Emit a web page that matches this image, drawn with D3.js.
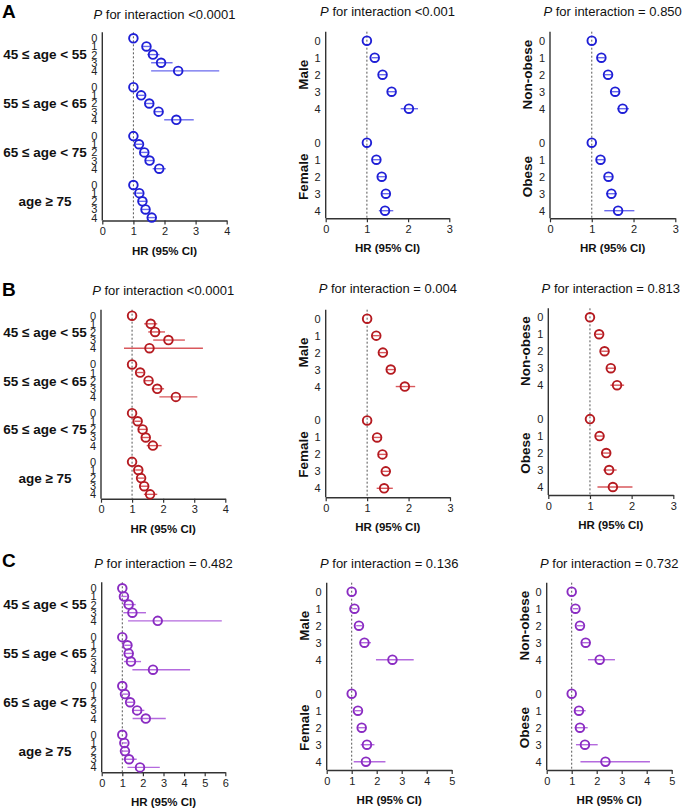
<!DOCTYPE html>
<html><head><meta charset="utf-8">
<script src="https://cdn.jsdelivr.net/npm/d3@7"></script>
<style>
html,body{margin:0;padding:0;background:#fff;}
svg{display:block;font-family:"Liberation Sans",Arial,sans-serif;}
</style></head>
<body><svg id="chart" width="685" height="809"></svg>
<script>
// ---------- data ----------
const rowLabels = ["0","1","2","3","4"];
const ageGroups = ["45 \u2264 age < 55","55 \u2264 age < 65","65 \u2264 age < 75","age \u2265 75"];
const sexGroups = ["Male","Female"];
const bmiGroups = ["Non-obese","Obese"];
const panelLetters = ["A","B","C"];
const pValuesA = ["<0.0001","<0.001","= 0.850"];
const pValuesB = ["<0.0001","= 0.004","= 0.813"];
const pValuesC = ["= 0.482","= 0.136","= 0.732"];
const xMaxA = [4,3,3];
const xMaxB = [4,3,3];
const xMaxC = [6,5,5];

// Panel A (blue)
const hrA_age = [[1,1.42,1.63,1.89,2.44],[1,1.25,1.51,1.81,2.38],[1,1.18,1.35,1.52,1.83],[1,1.19,1.29,1.39,1.59]];
const loA_age = [[1,1.31,1.45,1.57,1.57],[1,1.15,1.40,1.67,1.99],[1,1.08,1.24,1.40,1.62],[1,1.09,1.18,1.27,1.45]];
const hiA_age = [[1,1.53,1.84,2.26,3.76],[1,1.36,1.63,1.96,2.94],[1,1.28,1.46,1.65,2.04],[1,1.30,1.41,1.52,1.75]];
const hrA_sex = [[1,1.19,1.38,1.60,2.02],[1,1.23,1.36,1.46,1.44]];
const loA_sex = [[1,1.12,1.30,1.51,1.82],[1,1.14,1.27,1.36,1.29]];
const hiA_sex = [[1,1.27,1.47,1.70,2.24],[1,1.32,1.46,1.57,1.64]];
const hrA_bmi = [[1,1.23,1.39,1.56,1.74],[1,1.21,1.40,1.47,1.63]];
const loA_bmi = [[1,1.15,1.31,1.47,1.61],[1,1.12,1.30,1.34,1.30]];
const hiA_bmi = [[1,1.31,1.48,1.66,1.89],[1,1.30,1.50,1.60,2.02]];

// Panel B (red)
const hrB_age = [[1,1.60,1.74,2.17,1.56],[1,1.26,1.53,1.81,2.41],[1,1.18,1.34,1.44,1.67],[1,1.20,1.29,1.39,1.58]];
const loB_age = [[1,1.39,1.52,1.68,0.74],[1,1.15,1.40,1.63,1.88],[1,1.08,1.22,1.32,1.47],[1,1.10,1.18,1.27,1.38]];
const hiB_age = [[1,1.81,2.06,2.70,3.28],[1,1.37,1.66,2.03,3.10],[1,1.28,1.46,1.57,1.95],[1,1.31,1.40,1.52,1.81]];
const hrB_sex = [[1,1.22,1.38,1.57,1.91],[1,1.24,1.37,1.45,1.41]];
const loB_sex = [[1,1.14,1.29,1.47,1.69],[1,1.15,1.28,1.35,1.23]];
const hiB_sex = [[1,1.30,1.47,1.67,2.16],[1,1.33,1.47,1.56,1.62]];
const hrB_bmi = [[1,1.22,1.35,1.50,1.65],[1,1.23,1.39,1.46,1.55]];
const loB_bmi = [[1,1.14,1.27,1.41,1.49],[1,1.14,1.29,1.32,1.18]];
const hiB_bmi = [[1,1.30,1.44,1.60,1.82],[1,1.32,1.49,1.64,2.02]];

// Panel C (purple)
const hrC_age = [[1,1.08,1.31,1.49,2.72],[1,1.25,1.31,1.42,2.49],[1,1.13,1.38,1.72,2.14],[1,1.10,1.13,1.33,1.86]];
const loC_age = [[1,0.95,1.05,1.05,1.28],[1,1.10,1.10,1.08,1.49],[1,1.00,1.22,1.47,1.50],[1,1.00,0.98,1.05,1.25]];
const hiC_age = [[1,1.22,1.65,2.15,5.83],[1,1.42,1.55,1.91,4.29],[1,1.28,1.56,2.07,3.11],[1,1.22,1.30,1.70,2.82]];
const hrC_sex = [[1,1.11,1.29,1.51,2.63],[1,1.25,1.40,1.61,1.57]];
const loC_sex = [[1,1.02,1.18,1.33,1.97],[1,1.13,1.26,1.36,1.08]];
const hiC_sex = [[1,1.21,1.41,1.77,3.48],[1,1.38,1.55,1.91,2.35]];
const hrC_bmi = [[1,1.15,1.33,1.56,2.12],[1,1.29,1.33,1.53,2.35]];
const loC_bmi = [[1,1.05,1.21,1.40,1.65],[1,1.13,1.12,1.17,1.35]];
const hiC_bmi = [[1,1.26,1.46,1.76,2.73],[1,1.56,1.64,2.04,4.13]];

// ---------- layout ----------
const svg = d3.select("#chart");
const colors = {
  A:{dot:"#1f1fd6", line:"#6a6aee"},
  B:{dot:"#b51a20", line:"#d9585d"},
  C:{dot:"#8a2cc2", line:"#b46ade"}
};
const rows = [
  {letter:"A", letterY:17.5, pv:pValuesA, xm:xMaxA, col:colors.A,
   sets:[[hrA_age,loA_age,hiA_age],[hrA_sex,loA_sex,hiA_sex],[hrA_bmi,loA_bmi,hiA_bmi]],
   geo:[{x0:102.3,x1:226.7,row0:38.3,slot:8.15,axisY:220.5,titleY:14},
        {x0:325.7,x1:449.3,row0:40.7,slot:17,axisY:218.3,titleY:11.7},
        {x0:550,x1:675.3,row0:40.7,slot:17,axisY:218.3,titleY:11.7}]},
  {letter:"B", letterY:295.7, pv:pValuesB, xm:xMaxB, col:colors.B,
   sets:[[hrB_age,loB_age,hiB_age],[hrB_sex,loB_sex,hiB_sex],[hrB_bmi,loB_bmi,hiB_bmi]],
   geo:[{x0:101,x1:225.3,row0:315.7,slot:8.12,axisY:498.7,titleY:290},
        {x0:325.7,x1:450,row0:318.7,slot:16.96,axisY:497.3,titleY:288.3},
        {x0:548.3,x1:673.3,row0:317.3,slot:16.97,axisY:495,titleY:288.3}]},
  {letter:"C", letterY:566.7, pv:pValuesC, xm:xMaxC, col:colors.C,
   sets:[[hrC_age,loC_age,hiC_age],[hrC_sex,loC_sex,hiC_sex],[hrC_bmi,loC_bmi,hiC_bmi]],
   geo:[{x0:101.7,x1:225.3,row0:588.3,slot:8.14,axisY:772.3,titleY:563.3},
        {x0:326.7,x1:451.7,row0:591.7,slot:17,axisY:770,titleY:563.3},
        {x0:546.7,x1:671.7,row0:591.7,slot:17,axisY:770,titleY:563.3}]}
];
const groupNames = [ageGroups, sexGroups, bmiGroups];

rows.forEach(R => {
  svg.append("text").attr("x",2).attr("y",R.letterY)
    .attr("font-size",19).attr("font-weight","bold").attr("fill","#000").text(R.letter);

  R.geo.forEach((g, pi) => {
    const [hr, lo, hi] = R.sets[pi];
    const groups = groupNames[pi];
    const isAge = pi === 0;
    const xmax = R.xm[pi];
    const x = d3.scaleLinear().domain([0, xmax]).range([g.x0, g.x1]);
    const nSlots = (groups.length - 1) * 6 + 4;
    const y = d3.scaleLinear().domain([0, nSlots]).range([g.row0, g.row0 + nSlots * g.slot]);
    const yTop = g.row0 - (isAge ? 6 : 9);
    const panel = svg.append("g");

    // title
    const t = panel.append("text").attr("x",(g.x0+g.x1)/2).attr("y",g.titleY+4.6)
      .attr("text-anchor","middle").attr("font-size",13).attr("fill","#111");
    t.append("tspan").attr("font-style","italic").text("P");
    t.append("tspan").text(" for interaction " + R.pv[pi]);

    // x axis
    const ax = panel.append("g").attr("transform",`translate(0,${g.axisY})`)
      .call(d3.axisBottom(x).ticks(xmax).tickFormat(d3.format("d")).tickSize(4).tickSizeOuter(0));
    ax.select(".domain").attr("stroke","#333").attr("stroke-width",1.4);
    ax.selectAll(".tick line").attr("stroke","#333").attr("stroke-width",1.2);
    ax.selectAll(".tick text").attr("font-size",11).attr("fill","#222")
      .attr("font-family","'Liberation Sans',Arial,sans-serif");

    // y axis line
    panel.append("line").attr("x1",x(0)).attr("x2",x(0)).attr("y1",yTop).attr("y2",g.axisY)
      .attr("stroke","#333").attr("stroke-width",1.4);

    // reference line at HR = 1
    panel.append("line").attr("x1",x(1)).attr("x2",x(1)).attr("y1",yTop).attr("y2",g.axisY)
      .attr("stroke","#555").attr("stroke-width",1).attr("stroke-dasharray","2,2");

    // x label
    panel.append("text").attr("x",(g.x0+g.x1)/2).attr("y",g.axisY+34)
      .attr("text-anchor","middle").attr("font-size",11.5).attr("font-weight","bold")
      .attr("fill","#111").text("HR (95% CI)");

    groups.forEach((name, gi) => {
      const base = gi * 6;
      // row labels
      rowLabels.forEach((lab, ri) => {
        panel.append("text").attr("x",x(0)-5).attr("y",y(base+ri)).attr("dy","0.36em")
          .attr("text-anchor","end").attr("font-size",11).attr("fill","#222").text(lab);
      });
      // group label
      if (isAge) {
        panel.append("text").attr("x",45).attr("y",y(base+2)).attr("dy","0.36em")
          .attr("text-anchor","middle").attr("font-size",13.5).attr("font-weight","bold")
          .attr("fill","#111").text(name);
      } else {
        const cy = y(base+2), cx = x(0) - 23;
        panel.append("text").attr("transform",`translate(${cx},${cy}) rotate(-90)`)
          .attr("dy","0.36em").attr("text-anchor","middle").attr("font-size",13.5)
          .attr("font-weight","bold").attr("fill","#111").text(name);
      }
      // CIs and points
      hr[gi].forEach((v, ri) => {
        const yy = y(base+ri);
        if (hi[gi][ri] !== lo[gi][ri]) {
          panel.append("line").attr("x1",x(lo[gi][ri])).attr("x2",x(hi[gi][ri]))
            .attr("y1",yy).attr("y2",yy).attr("stroke",R.col.line).attr("stroke-width",1.4);
        }
        panel.append("circle").attr("cx",x(v)).attr("cy",yy).attr("r",4.3)
          .attr("fill","none").attr("stroke",R.col.dot).attr("stroke-width",1.9);
      });
    });
  });
});
</script></body></html>
